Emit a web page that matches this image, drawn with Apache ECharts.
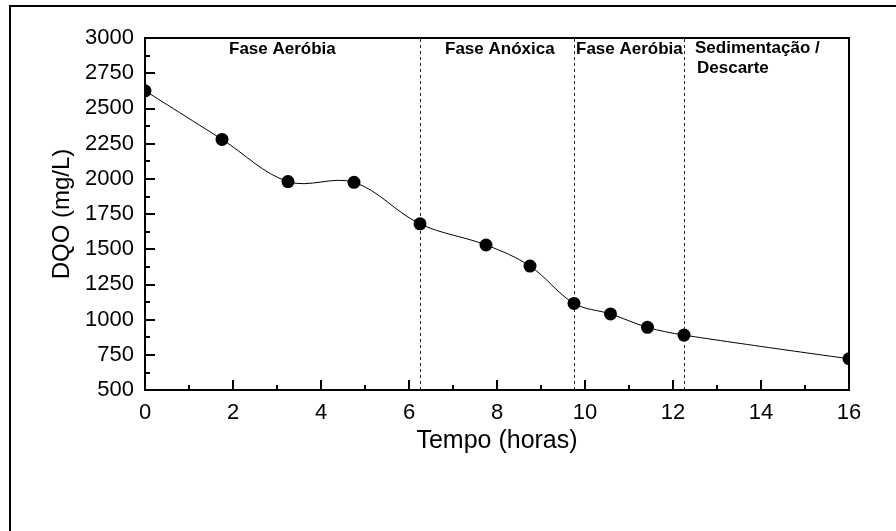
<!DOCTYPE html>
<html>
<head>
<meta charset="utf-8">
<script src="https://cdn.jsdelivr.net/npm/echarts@6/dist/echarts.min.js"></script>
<style>
html,body{margin:0;padding:0;background:#fff;}
#chart{width:896px;height:531px;}
</style>
</head>
<body>
<div id="chart"></div>
<script>
// Data
var times = [0, 1.75, 3.25, 4.75, 6.25, 7.75, 8.75, 9.75, 10.58, 11.42, 12.25, 16];
var dqo = [2625, 2280, 1980, 1975, 1680, 1530, 1380, 1115, 1040, 945, 890, 722];
var phaseBounds = [6.25, 9.75, 12.25];
var phaseLabels = ['Fase Aeróbia', 'Fase Anóxica', 'Fase Aeróbia', 'Sedimentação /', 'Descarte'];

var FONT = '"Liberation Sans", Arial, sans-serif';
var chart = echarts.init(document.getElementById('chart'), null, {renderer: 'canvas'});

var seriesData = times.map(function (t, i) { return [t, dqo[i]]; });

var labelPos = [
  {x: 229, y: 51},
  {x: 445, y: 51},
  {x: 576, y: 51},
  {x: 695, y: 50},
  {x: 697, y: 70}
];

var graphics = [{
  type: 'rect',
  shape: {x: 10, y: 6, width: 1000, height: 1000},
  style: {fill: 'none', stroke: '#000', lineWidth: 2},
  silent: true, z: 0
}];
phaseLabels.forEach(function (txt, i) {
  graphics.push({
    type: 'text',
    left: labelPos[i].x,
    top: labelPos[i].y - 10,
    style: {text: txt, font: 'bold 17px ' + FONT, fill: '#000'},
    z: 10
  });
});

function renderItem(params, api) {
  var children = [];
  if (params.dataIndex === 0) {
    var pts = times.map(function (t, j) { return api.coord([t, dqo[j]]); });
    children.push({
      type: 'polyline',
      shape: {points: pts, smooth: 0.35},
      style: {fill: null, stroke: '#000', lineWidth: 1},
      z2: 0
    });
  }
  var c = api.coord([api.value(0), api.value(1)]);
  children.push({
    type: 'circle',
    shape: {cx: c[0], cy: c[1], r: 6.5},
    style: {fill: '#000'},
    z2: 10
  });
  return {type: 'group', children: children};
}

var option = {
  animation: false,
  backgroundColor: '#fff',
  grid: {left: 145, right: 47, top: 38, bottom: 141, show: true, borderColor: '#000', borderWidth: 2, backgroundColor: 'transparent'},
  xAxis: {
    type: 'value', min: 0, max: 16, interval: 2,
    name: 'Tempo (horas)', nameLocation: 'middle', nameGap: 37,
    nameTextStyle: {fontSize: 25, color: '#000', fontFamily: FONT},
    axisLine: {show: true, onZero: false, lineStyle: {color: '#000', width: 2}},
    axisTick: {show: true, inside: true, length: 10, lineStyle: {color: '#000', width: 2}},
    minorTick: {show: true, splitNumber: 2, length: 5, lineStyle: {color: '#000', width: 2}},
    axisLabel: {fontSize: 22, color: '#000', fontFamily: FONT, margin: 12},
    splitLine: {show: false}
  },
  yAxis: {
    type: 'value', min: 500, max: 3000, interval: 250,
    name: 'DQO (mg/L)', nameLocation: 'middle', nameGap: 67,
    nameTextStyle: {fontSize: 24, color: '#000', fontFamily: FONT},
    axisLine: {show: true, onZero: false, lineStyle: {color: '#000', width: 2}},
    axisTick: {show: true, inside: true, length: 10, lineStyle: {color: '#000', width: 2}},
    minorTick: {show: true, splitNumber: 2, length: 5, lineStyle: {color: '#000', width: 2}},
    axisLabel: {fontSize: 22, color: '#000', fontFamily: FONT, margin: 11,
      formatter: function (v) { return String(v); }},
    splitLine: {show: false}
  },
  graphic: graphics,
  series: [{
    type: 'custom',
    data: seriesData,
    renderItem: renderItem,
    clip: true,
    z: 5,
    markLine: {
      silent: true,
      symbol: ['none', 'none'],
      label: {show: false},
      lineStyle: {color: '#222', width: 1, type: [3, 3]},
      data: phaseBounds.map(function (b) { return {xAxis: b}; })
    }
  }]
};
chart.setOption(option);
</script>
</body>
</html>
